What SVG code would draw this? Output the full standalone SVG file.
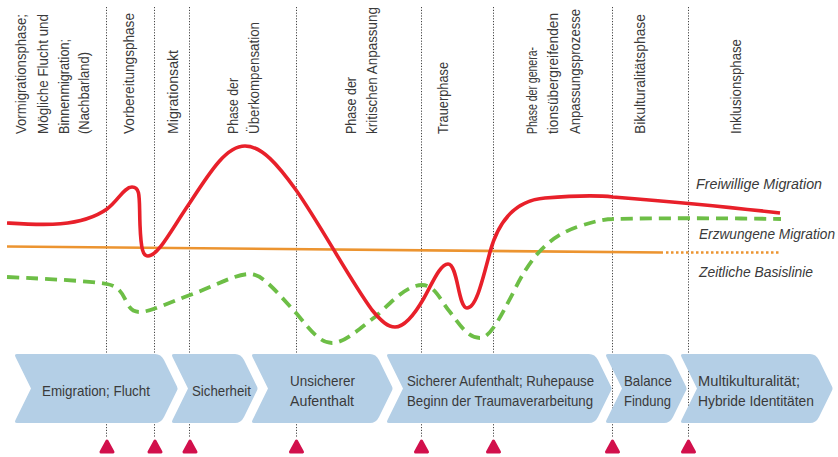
<svg xmlns="http://www.w3.org/2000/svg" width="838" height="457" viewBox="0 0 838 457">
<style>
  .t { font-family: "Liberation Sans", Arial, sans-serif; font-size: 14.5px; fill: #3a3a3a; }
  .c { font-family: "Liberation Sans", Arial, sans-serif; font-size: 15px; fill: #3a3a3a; }
  .it { font-family: "Liberation Sans", Arial, sans-serif; font-size: 14.5px; font-style: italic; fill: #3a3a3a; }
  .vl { stroke: #444; stroke-width: 1; stroke-dasharray: 1.2 1.6; fill: none; }
  .chev { fill: #b4cfe6; }
  .tri { fill: #d2104c; stroke: #d2104c; stroke-width: 3; stroke-linejoin: round; }
</style>
<rect width="838" height="457" fill="#ffffff"/>

<g id="phase-lines">
  <line class="vl" x1="106.5" y1="7" x2="106.5" y2="437"/>
  <line class="vl" x1="154.5" y1="7" x2="154.5" y2="437"/>
  <line class="vl" x1="189.5" y1="7" x2="189.5" y2="437"/>
  <line class="vl" x1="296.5" y1="7" x2="296.5" y2="437"/>
  <line class="vl" x1="421.5" y1="7" x2="421.5" y2="437"/>
  <line class="vl" x1="493.5" y1="7" x2="493.5" y2="437"/>
  <line class="vl" x1="612.5" y1="7" x2="612.5" y2="437"/>
  <line class="vl" x1="688.5" y1="7" x2="688.5" y2="437"/>
</g>

<g id="phase-labels" class="t">
  <g id="label-vormigration">
    <text transform="translate(26,134) rotate(-90)" textLength="120" lengthAdjust="spacingAndGlyphs">Vormigrationsphase;</text>
    <text transform="translate(48,134) rotate(-90)" textLength="120" lengthAdjust="spacingAndGlyphs">Mögliche Flucht und</text>
    <text transform="translate(69,134) rotate(-90)" textLength="95" lengthAdjust="spacingAndGlyphs">Binnenmigration;</text>
    <text transform="translate(89,134) rotate(-90)" textLength="82" lengthAdjust="spacingAndGlyphs">(Nachbarland)</text>
  </g>
  <g id="label-vorbereitung">
    <text transform="translate(134,134) rotate(-90)" textLength="121" lengthAdjust="spacingAndGlyphs">Vorbereitungsphase</text>
  </g>
  <g id="label-migrationsakt">
    <text transform="translate(178,134) rotate(-90)" textLength="84" lengthAdjust="spacingAndGlyphs">Migrationsakt</text>
  </g>
  <g id="label-ueberkompensation">
    <text transform="translate(238,134) rotate(-90)" textLength="56" lengthAdjust="spacingAndGlyphs">Phase der</text>
    <text transform="translate(259,134) rotate(-90)" textLength="112" lengthAdjust="spacingAndGlyphs">Überkompensation</text>
  </g>
  <g id="label-kritisch">
    <text transform="translate(356,134) rotate(-90)" textLength="57" lengthAdjust="spacingAndGlyphs">Phase der</text>
    <text transform="translate(377,134) rotate(-90)" textLength="127" lengthAdjust="spacingAndGlyphs">kritischen Anpassung</text>
  </g>
  <g id="label-trauer">
    <text transform="translate(448,134) rotate(-90)" textLength="72" lengthAdjust="spacingAndGlyphs">Trauerphase</text>
  </g>
  <g id="label-generationen">
    <text transform="translate(537,134) rotate(-90)" textLength="87" lengthAdjust="spacingAndGlyphs">Phase der genera-</text>
    <text transform="translate(558,134) rotate(-90)" textLength="121" lengthAdjust="spacingAndGlyphs">tionsübergreifenden</text>
    <text transform="translate(580,134) rotate(-90)" textLength="125" lengthAdjust="spacingAndGlyphs">Anpassungsprozesse</text>
  </g>
  <g id="label-bikulturalitaet">
    <text transform="translate(645,134) rotate(-90)" textLength="120" lengthAdjust="spacingAndGlyphs">Bikulturalitätsphase</text>
  </g>
  <g id="label-inklusion">
    <text transform="translate(741,134) rotate(-90)" textLength="95" lengthAdjust="spacingAndGlyphs">Inklusionsphase</text>
  </g>
</g>

<g id="connectors" fill="none" stroke-linecap="butt">
  <path id="basislinie" d="M7,246.5 L663,252.5" stroke="#ec9430" stroke-width="2.6"/>
  <path id="basislinie-dotted" d="M666,252.5 L779,252.5" stroke="#ec9430" stroke-width="2.6" stroke-dasharray="2.5 2.5"/>
  <path id="erzwungen" d="M7,277 C50,279 90,281 107,284 C118,286 122,292 127,303 C131,311 135,312 140,312 C150,312 170,302 190,295 C215,286 235,274 250,274 C262,274 275,290 297,314 C310,330 320,343 332,343 C345,343 360,328 375,317 C388,306 405,285 422,285 C435,285 440,300 450,312 C460,325 468,338 480,338 C490,338 500,318 513,293 C528,262 545,238 577,227 C595,221 605,219 613,219 C650,218 720,218 781,219" stroke="#6dbe46" stroke-width="3.8" stroke-dasharray="12 7"/>
  <path id="freiwillig" d="M7,223 C40,225 80,228 107,209 C118,201 124,187 132,187 C141,187 139,198 140,225 C141,250 143,256 148,256 C158,256 170,232 189,204 C210,172 226,146 245,146 C262,146 278,165 296,190 C320,224 350,280 372,310 C382,322 388,327 395,327 C405,327 416,312 424,298 C432,284 440,264 448,264 C458,264 458,308 467,308 C476,308 482,282 490,252 C500,215 520,200 545,198 C570,196 595,195 613,197 C650,200 720,206 780,213" stroke="#e8202a" stroke-width="3.6"/>
</g>

<g id="legend">
  <text class="it" x="696" y="189" textLength="126" lengthAdjust="spacingAndGlyphs">Freiwillige Migration</text>
  <text class="it" x="699" y="239" textLength="136" lengthAdjust="spacingAndGlyphs">Erzwungene Migration</text>
  <text class="it" x="699" y="277" textLength="114" lengthAdjust="spacingAndGlyphs">Zeitliche Basislinie</text>
</g>

<g id="chevrons">
  <g id="chev-emigration">
    <path class="chev" d="M17,354 L155,354 Q161,354 164,360 L177,386.5 Q178,388.5 177,390.5 L164,417 Q161,423 155,423 L17,423 Q14,423 15.5,420 L31,388.5 L15.5,357 Q14,354 17,354 Z"/>
    <text class="c" x="42" y="396" textLength="108" lengthAdjust="spacingAndGlyphs">Emigration; Flucht</text>
  </g>
  <g id="chev-sicherheit">
    <path class="chev" d="M174,354 L235,354 Q241,354 244,360 L257,386.5 Q258,388.5 257,390.5 L244,417 Q241,423 235,423 L174,423 Q171,423 172.5,420 L188,388.5 L172.5,357 Q171,354 174,354 Z"/>
    <text class="c" x="192" y="396" textLength="59" lengthAdjust="spacingAndGlyphs">Sicherheit</text>
  </g>
  <g id="chev-unsicher">
    <path class="chev" d="M254,354 L370,354 Q376,354 379,360 L392,386.5 Q393,388.5 392,390.5 L379,417 Q376,423 370,423 L254,423 Q251,423 252.5,420 L268,388.5 L252.5,357 Q251,354 254,354 Z"/>
    <text class="c" x="290" y="386" textLength="65" lengthAdjust="spacingAndGlyphs">Unsicherer</text>
    <text class="c" x="290" y="406" textLength="64" lengthAdjust="spacingAndGlyphs">Aufenthalt</text>
  </g>
  <g id="chev-sicher">
    <path class="chev" d="M389,354 L589,354 Q595,354 598,360 L611,386.5 Q612,388.5 611,390.5 L598,417 Q595,423 589,423 L389,423 Q386,423 387.5,420 L403,388.5 L387.5,357 Q386,354 389,354 Z"/>
    <text class="c" x="407" y="386" textLength="187" lengthAdjust="spacingAndGlyphs">Sicherer Aufenthalt; Ruhepause</text>
    <text class="c" x="407" y="406" textLength="186" lengthAdjust="spacingAndGlyphs">Beginn der Traumaverarbeitung</text>
  </g>
  <g id="chev-balance">
    <path class="chev" d="M608,354 L664,354 Q670,354 673,360 L686,386.5 Q687,388.5 686,390.5 L673,417 Q670,423 664,423 L608,423 Q605,423 606.5,420 L622,388.5 L606.5,357 Q605,354 608,354 Z"/>
    <text class="c" x="624" y="386" textLength="48" lengthAdjust="spacingAndGlyphs">Balance</text>
    <text class="c" x="624" y="406" textLength="47" lengthAdjust="spacingAndGlyphs">Findung</text>
  </g>
  <g id="chev-multikulturalitaet">
    <path class="chev" d="M683,354 L810,354 Q816,354 819,360 L832,386.5 Q833,388.5 832,390.5 L819,417 Q816,423 810,423 L683,423 Q680,423 681.5,420 L697,388.5 L681.5,357 Q680,354 683,354 Z"/>
    <text class="c" x="698" y="386" textLength="102" lengthAdjust="spacingAndGlyphs">Multikulturalität;</text>
    <text class="c" x="698" y="406" textLength="116" lengthAdjust="spacingAndGlyphs">Hybride Identitäten</text>
  </g>
</g>

<g id="markers">
  <path class="tri" d="M107,441 L113,452 L101,452 Z"/>
  <path class="tri" d="M155,441 L161,452 L149,452 Z"/>
  <path class="tri" d="M190,441 L196,452 L184,452 Z"/>
  <path class="tri" d="M296.5,441 L302.5,452 L290.5,452 Z"/>
  <path class="tri" d="M421.5,441 L427.5,452 L415.5,452 Z"/>
  <path class="tri" d="M493.5,441 L499.5,452 L487.5,452 Z"/>
  <path class="tri" d="M612.5,441 L618.5,452 L606.5,452 Z"/>
  <path class="tri" d="M688.5,441 L694.5,452 L682.5,452 Z"/>
</g>
</svg>
